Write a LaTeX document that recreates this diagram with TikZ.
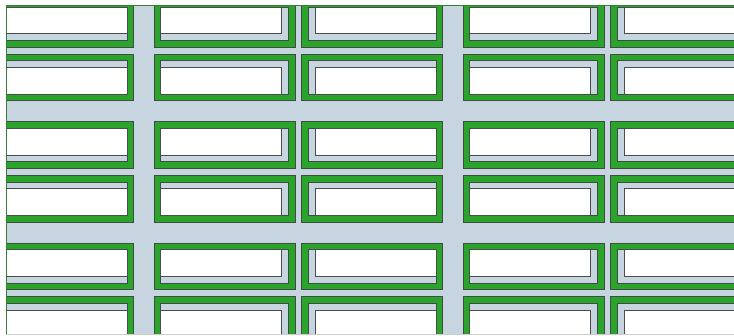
\documentclass[tikz,border=0pt]{standalone}
\usepackage{tikz}
\usepackage{xcolor}

\definecolor{streetblue}{RGB}{198,213,224}
\definecolor{roofgreen}{RGB}{42,164,42}
\definecolor{edgegray}{RGB}{66,74,68}

\begin{document}
\begin{tikzpicture}[
  x=1pt, y=-1pt,
  street/.style={fill=streetblue},
  wall/.style={fill=roofgreen, draw=edgegray, line width=0.6pt},
  yard/.style={fill=streetblue, draw=edgegray, line width=0.6pt},
  roof/.style={fill=white, draw=black!70, line width=0.6pt},
  border/.style={draw=gray!60!green!70!black, line width=1pt}
]

\useasboundingbox (0,0) rectangle (734,336);

% Streets and blocks
\begin{scope}
  \clip (6,6) rectangle (734,334);
  \fill[street] (6,6) rectangle (734,334);
  % \sx=1: yard gap on the left, \sy=1: yard gap on top
  \foreach \xl/\sx in {-7.5/1, 154/0, 301.5/1, 463/0, 610.5/1} {
    \foreach \yt/\sy in {0.4/0, 54.1/1, 121.7/0, 175.4/1, 243/0, 296.7/1} {
      \draw[wall] (\xl,\yt) rectangle ({\xl+141},{\yt+46.7});
      \draw[yard] ({\xl+6.7},{\yt+6.7}) rectangle ({\xl+134.3},{\yt+40});
      \draw[roof] ({\xl+6.7+6.7*\sx},{\yt+6.7+6.7*\sy})
        rectangle ({\xl+134.3-6.7*(1-\sx)},{\yt+40-6.7*(1-\sy)});
    }
  }
\end{scope}

% Frame
\draw[border] (734,6) -- (6,6) -- (6,334);
\draw[draw=gray!40, line width=0.8pt] (6,334) -- (734,334);

\end{tikzpicture}
\end{document}
